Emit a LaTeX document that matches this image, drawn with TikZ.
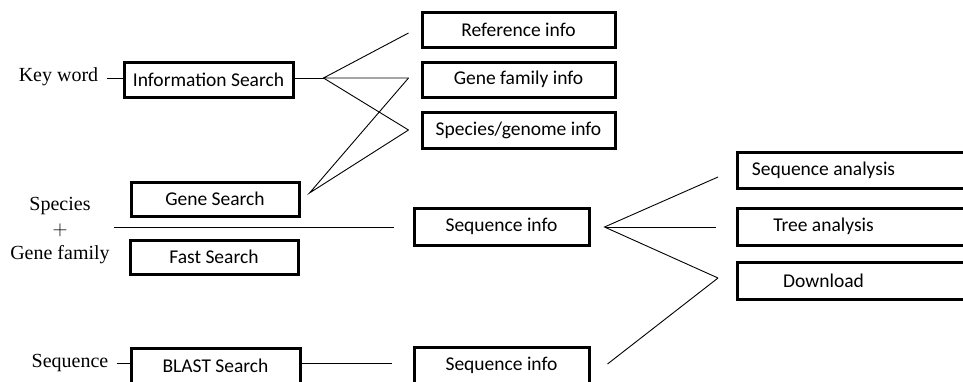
\documentclass[tikz,border=0pt]{standalone}
\usepackage{fontspec}
\setmainfont{Liberation Serif}
\newfontfamily\boxfont{Carlito}
\usetikzlibrary{positioning}

\tikzset{
  boxtext/.style={font=\boxfont\fontsize{19.5}{22}\selectfont},
  box/.style={draw, line width=3pt, boxtext, minimum height=35, inner sep=0pt},
  tag/.style={font=\fontsize{20}{24.5}\selectfont, inner sep=0pt, align=center},
  link/.style={line width=0.9pt}
}

\begin{document}
\begin{tikzpicture}[x=1pt,y=-1pt]
\useasboundingbox (0,0) rectangle (963,381);
\clip (0,0) rectangle (963,381);

% inputs
\node (kw) [tag] at (58.5,77) {Key word};
\node (sg) [tag] at (60,231) {Species\\$+$\\Gene family};
\node (sq) [tag] at (70,363) {Sequence};

% search boxes
\node (infoS) [box,minimum width=169] at (208.5,79.5) {Information Search};
\node (geneS) [box,minimum width=168,minimum height=34] at (215,199) {Gene Search};
\node (fastS) [box,minimum width=168,minimum height=34] at (214,257) {Fast Search};
\node (blastS) [box,minimum width=169] at (215.5,365.5) {BLAST Search};

% info boxes
\node (refI) [box,minimum width=193] at (518.5,29.5) {Reference info};
\node (famI) [box,minimum width=193] at (518.5,79.5) {Gene family info};
\node (spcI) [box,minimum width=193,minimum height=36] at (518.5,130) {Species/genome info};
\node (seqA) [box,minimum width=175,minimum height=37] at (501.5,226.5) {Sequence info};
\node (seqB) [box,minimum width=175,minimum height=37] at (501.5,365.5) {Sequence info};

% analysis boxes (cut off at the right edge)
\node (seqAn) [box,minimum width=250,minimum height=36,anchor=west,
  label={[boxtext,xshift=-39pt]center:Sequence analysis}] at (736,170) {};
\node (treeAn) [box,minimum width=250,minimum height=37,anchor=west,
  label={[boxtext,xshift=-39pt]center:Tree analysis}] at (736,226.5) {};
\node (dl) [box,minimum width=250,minimum height=37,anchor=west,
  label={[boxtext,xshift=-39pt]center:Download}] at (736,280.5) {};

% junction points
\path (infoS.east) +(29,-1.5) coordinate (j1);
\path (geneS.east) +(9,-6) coordinate (j2);
\path (seqA.east) +(14,0.5) coordinate (j3);
\path (seqB.east) +(17,-1.5) coordinate (j4);
\path (refI.west) +(-12,3.5) coordinate (refIn);
\path (famI.west) +(-12,-1.5) coordinate (famIn);
\path (spcI.west) +(-12,0) coordinate (spcIn);
\path (seqAn.west) +(-18,7) coordinate (seqAnIn);
\path (treeAn.west) +(-20,0.5) coordinate (treeIn);
\path (dl.west) +(-18,-2.5) coordinate (dlIn);

\draw[link] (kw.east) ++(9,1) coordinate (kwOut) -- (infoS.west |- kwOut);
\draw[link] (sq.east) ++(8,0) coordinate (sqOut) -- (blastS.west |- sqOut);
\draw[link] (infoS.east |- j1) -- (j1);
\draw[link] (refIn) -- (j1) -- (famIn);
\draw[link] (j1) -- (spcIn);
\draw[link] (famIn) -- (j2) -- (spcIn);
\draw[link] (sg.east |- seqA) ++(4,0.5) coordinate (sgOut) -- (sgOut -| 394,0);
\draw[link] (blastS.east |- sqOut) -- (392,0 |- sqOut);
\draw[link] (seqAnIn) -- (j3) -- (dlIn);
\draw[link] (j3) -- (treeIn);
\draw[link] (j4) -- (dlIn);
\end{tikzpicture}
\end{document}
